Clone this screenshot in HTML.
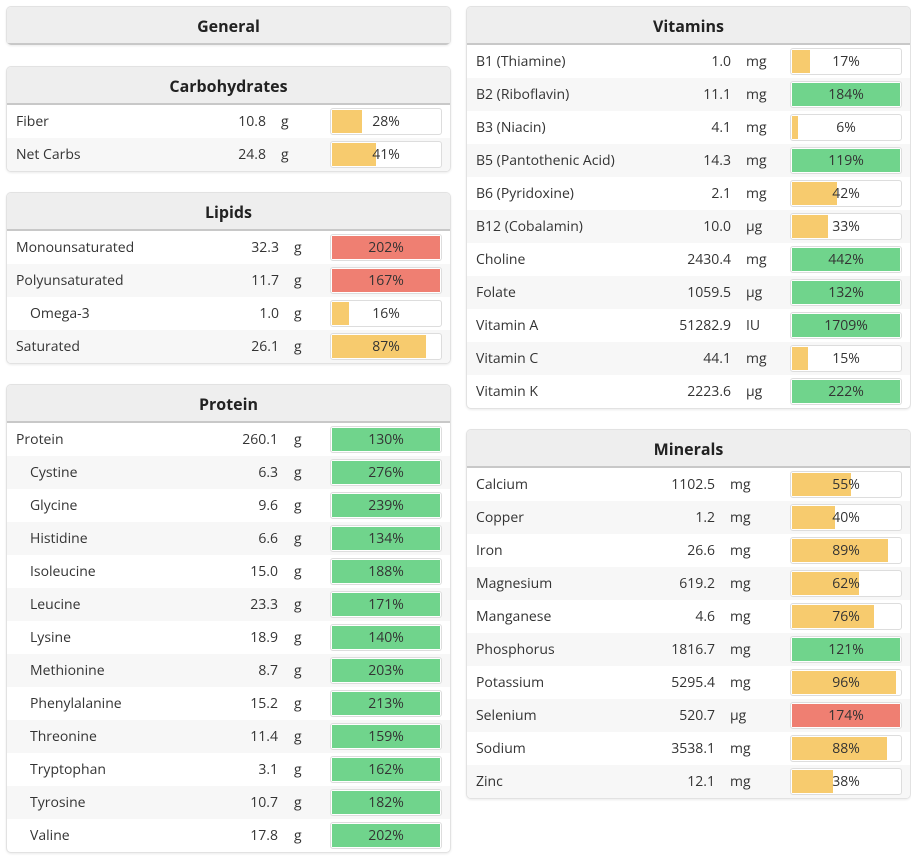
<!DOCTYPE html>
<html><head><meta charset="utf-8">
<style>
body{margin:0;width:911px;height:865px;background:#fff;font-family:"Open Sans","Liberation Sans",sans-serif;color:#333;position:relative;overflow:hidden}
.panel{position:absolute;border:1px solid #e2e2e2;border-radius:5px;background:#fff;box-shadow:0 1px 2px rgba(0,0,0,.08);overflow:hidden}
.hdr{height:36px;background:#eee;border-bottom:2px solid #c8c8c8;text-align:center;line-height:38px;font-weight:bold;font-size:16px;color:#222}
.row{position:relative;height:33px;font-size:14px;line-height:33px}
.row:nth-child(even){background:#f7f7f7}
.nm{position:absolute;left:9px}
.val{position:absolute;text-align:right}
.unit{position:absolute}
.bar{position:absolute;top:3px;width:110px;height:25px;border:1px solid #ddd;border-radius:3px;background:#fff;overflow:hidden}
.fill{position:absolute;left:1px;top:1px;bottom:1px}
.pct{position:absolute;left:0;right:0;text-align:center;line-height:25px;font-size:14px;color:#333}
</style></head><body>
<div class="panel" style="left:6px;top:6px;width:443px;height:38px;border-bottom:none">
<div class="hdr" style="height:36px">General</div></div>
<div id="root"></div>
<script>
// Carbohydrates
const carbNames=["Fiber","Net Carbs"];
const carbVals=[10.8,24.8];
const carbUnits=["g","g"];
const carbPct=[28,41];
// Lipids
const lipNames=["Monounsaturated","Polyunsaturated","Omega-3","Saturated"];
const lipVals=[32.3,11.7,1.0,26.1];
const lipUnits=["g","g","g","g"];
const lipPct=[202,167,16,87];
const lipRed=[1,1,0,0];
// Protein
const proNames=["Protein","Cystine","Glycine","Histidine","Isoleucine","Leucine","Lysine","Methionine","Phenylalanine","Threonine","Tryptophan","Tyrosine","Valine"];
const proVals=[260.1,6.3,9.6,6.6,15.0,23.3,18.9,8.7,15.2,11.4,3.1,10.7,17.8];
const proPct=[130,276,239,134,188,171,140,203,213,159,162,182,202];
// Vitamins
const vitNames=["B1 (Thiamine)","B2 (Riboflavin)","B3 (Niacin)","B5 (Pantothenic Acid)","B6 (Pyridoxine)","B12 (Cobalamin)","Choline","Folate","Vitamin A","Vitamin C","Vitamin K"];
const vitVals=[1.0,11.1,4.1,14.3,2.1,10.0,2430.4,1059.5,51282.9,44.1,2223.6];
const vitUnits=["mg","mg","mg","mg","mg","µg","mg","µg","IU","mg","µg"];
const vitPct=[17,184,6,119,42,33,442,132,1709,15,222];
// Minerals
const minNames=["Calcium","Copper","Iron","Magnesium","Manganese","Phosphorus","Potassium","Selenium","Sodium","Zinc"];
const minVals=[1102.5,1.2,26.6,619.2,4.6,1816.7,5295.4,520.7,3538.1,12.1];
const minUnits=["mg","mg","mg","mg","mg","mg","mg","µg","mg","mg"];
const minPct=[55,40,89,62,76,121,96,174,88,38];
const minRed=[0,0,0,0,0,0,0,1,0,0];

function panel(o){
  const p=document.createElement('div');p.className='panel';
  
  
  p.style.left=o.x+'px';p.style.top=o.y+'px';p.style.width='443px';
  const h=document.createElement('div');h.className='hdr';h.textContent=o.title;
  
  
  p.appendChild(h);
  const body=document.createElement('div');p.appendChild(body);
  o.names.forEach((n,i)=>{
    const r=document.createElement('div');r.className='row';
    
    
    const ind=o.indent&&o.indent[i];
    const vText=o.vals[i].toFixed(1);
    r.innerHTML='<span class="nm" style="left:'+(ind?23:9)+'px">'+n+'</span>'+
      '<span class="val" style="right:'+(443-o.vEnd)+'px">'+vText+'</span>'+
      '<span class="unit" style="left:'+o.uX+'px">'+o.units[i]+'</span>';
    const b=document.createElement('div');b.className='bar';b.style.left=o.bX+'px';
    
    
    const pc=o.pct[i];
    const f=document.createElement('div');f.className='fill';
    
    
    f.style.width=(Math.min(pc,100)/100*108)+'px';
    const red=o.red&&o.red[i];
    f.style.background=red?'#ef7f72':(pc>=100?'#70d48c':'#f7cb6e');
    const t=document.createElement('div');t.className='pct';t.textContent=pc+'%';
    b.appendChild(f);b.appendChild(t);r.appendChild(b);
    body.appendChild(r);
  });
  document.getElementById('root').appendChild(p);
}
const g=n=>n.map(()=> 'g');
panel({id:'carbohydrates',title:'Carbohydrates',x:6,y:66,names:carbNames,vals:carbVals,units:carbUnits,pct:carbPct,vEnd:259,uX:274,bX:323});
panel({id:'lipids',title:'Lipids',x:6,y:192,names:lipNames,vals:lipVals,units:lipUnits,pct:lipPct,red:lipRed,indent:[0,0,1,0],vEnd:272,uX:287,bX:323});
panel({id:'protein',title:'Protein',x:6,y:384,names:proNames,vals:proVals,units:g(proNames),pct:proPct,indent:proNames.map((_,i)=>i>0),vEnd:271,uX:287,bX:323});
panel({id:'vitamins',title:'Vitamins',x:466,y:6,names:vitNames,vals:vitVals,units:vitUnits,pct:vitPct,vEnd:264,uX:279,bX:323});
panel({id:'minerals',title:'Minerals',x:466,y:429,names:minNames,vals:minVals,units:minUnits,pct:minPct,red:minRed,vEnd:248,uX:263,bX:323});
</script>
</body></html>
